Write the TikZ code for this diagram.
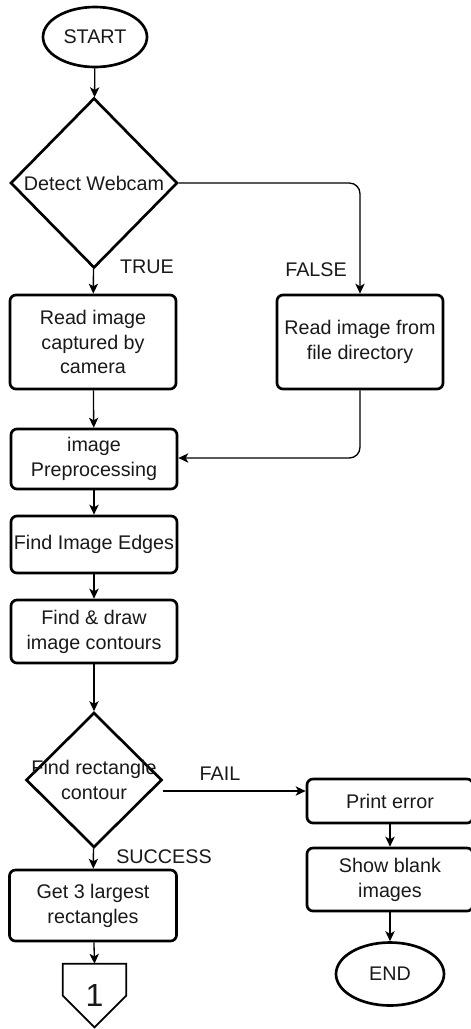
\documentclass[tikz,border=0pt]{standalone}
\usepackage{fontspec}
\setmainfont{Liberation Sans}
\usetikzlibrary{shapes.geometric,arrows.meta,calc}
\begin{document}
\begin{tikzpicture}[x=0.75pt,y=-0.75pt,
  every node/.style={font=\fontsize{14.8pt}{18.6pt}\selectfont, text=black!90},
  stepbox/.style={draw, line width=2pt, rounded corners=4.5pt, align=center,
    inner sep=0pt, minimum width=124.5pt},
  term/.style={draw, ellipse, line width=2pt, inner sep=0pt},
  decide/.style={draw, diamond, line width=2pt, inner sep=0pt},
  txt/.style={align=center, inner sep=0pt},
  conn/.style={draw, line width=1pt, -{Stealth[length=7.5pt,width=7pt,inset=2pt]}},
  flow/.style={draw, line width=1pt}
]
\useasboundingbox (0,0) rectangle (471,1029);

% left column
\node[term, minimum width=78pt, minimum height=45pt] (start) at (95,37) {START};
\node[decide, minimum width=125.25pt, minimum height=127.5pt] (d1) at (94,183) {};
\node[txt] (d1t) at (d1) {Detect Webcam};
\node[stepbox, minimum height=70.5pt] (b1) at (93,342) {Read image\\captured by\\camera};
\node[stepbox, minimum height=70.5pt] (b2) at (360,342) {Read image from\\file directory};
\node[stepbox, minimum height=45pt] (b3) at (94,459) {image\\Preprocessing};
\node[stepbox, minimum height=42.75pt] (b4) at (94,544.5) {Find Image Edges};
\node[stepbox, minimum height=47.25pt] (b5) at (94,631.5) {Find \& draw\\image contours};
\node[decide, minimum width=102pt, minimum height=101.25pt] (d2) at (94,780) {};
\node[txt] (d2t) at (d2) {Find rectangle\\contour};
\node[stepbox, minimum width=125.25pt, minimum height=53.25pt] (b6) at (93,905.5) {Get 3 largest\\rectangles};

% off-page connector
\node[inner sep=0pt, minimum width=47.25pt, minimum height=47.25pt,
  font=\fontsize{24pt}{24pt}\selectfont] (c1) at (94.5,995.5) {1};
\draw[line width=1.3pt, line join=miter] (c1.north west) -- (c1.north east) -- (c1.east)
  -- (c1.south) -- (c1.west) -- cycle;

% right column
\node[stepbox, minimum height=33pt] (print) at (390,801) {Print error};
\node[stepbox, minimum height=47.25pt] (show) at (390,879.5) {Show blank\\images};
\node[term, minimum width=81pt, minimum height=47.25pt] (end) at (390,974) {END};

% branch labels
\node[txt] (ltrue) at (147,267) {TRUE};
\node[txt] (lfalse) at (316,270) {FALSE};
\node[txt] (lfail) at (220,774) {FAIL};
\node[txt] (lsucc) at (164,857) {SUCCESS};

% connectors
\draw[conn] (start) -- (d1);
\draw[conn] (d1) -- (b1);
\draw[conn, rounded corners=8pt] (d1.east) -| (b2.north);
\draw[conn] (b1) -- (b3);
\draw[conn, rounded corners=8pt] (b2.south) |- ($(b3.east)+(0,-1)$);
\draw[conn] (b3) -- (b4);
\draw[conn] (b4) -- (b5);
\draw[conn] (b5) -- (d2);
\draw[conn] ($(d2.east)+(0,11)$) -- ($(print.west)+(0,-10)$);
\draw[conn] (d2) -- (b6);
\draw[conn] (b6) -- (c1.north);
\draw[conn] (print) -- (show);
\draw[conn] (show) -- (end);
\end{tikzpicture}
\end{document}
